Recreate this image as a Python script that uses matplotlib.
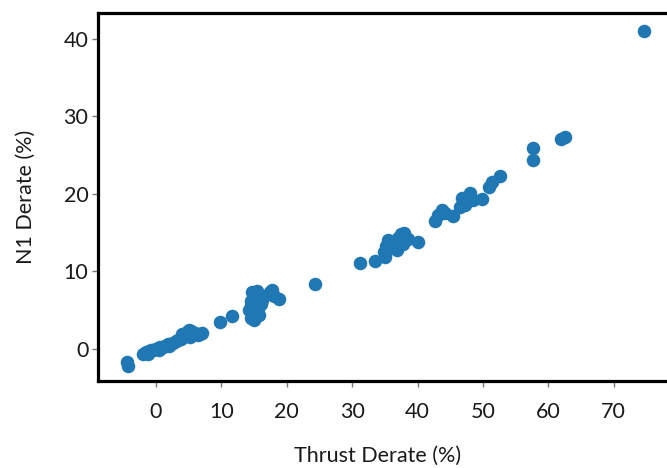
import matplotlib
matplotlib.use("Agg")
import matplotlib.pyplot as plt

plt.rcParams['font.family'] = ['Lato', 'DejaVu Sans']

# Thrust derate (%) and N1 derate (%)
thrust_derate = [
    -4.5, -4.3,
    -2.0, -1.5, -1.2, -1.0, -0.8, -0.5, 0.0, 0.3, 0.5, 0.6, 1.0, 1.4, 1.8, 2.0,
    2.2, 2.6, 3.0, 3.4, 3.8, 4.0, 4.2, 4.5, 4.8, 5.0, 5.2, 5.3, 5.6, 6.0, 6.4, 6.8, 7.0,
    9.8, 11.6,
    14.2, 14.5, 14.5, 14.6, 14.7, 14.8, 14.9, 15.0, 15.0, 15.2, 15.3, 15.5, 15.6,
    15.8, 16.0, 16.2, 16.5,
    17.5, 17.8, 18.0, 18.8,
    24.3,
    31.2, 33.5, 35.0, 34.8, 35.2, 35.5, 36.0, 36.5, 36.8, 37.0, 37.5, 37.8, 38.0, 38.5, 40.1,
    42.7, 43.2, 43.8, 44.2, 45.5, 46.5, 46.8, 47.0, 47.3, 47.5, 48.0, 48.5, 49.8,
    51.0, 51.4, 52.6,
    57.7, 57.7, 62.0, 62.5,
    74.6,
]
n1_derate = [
    -1.7, -2.2,
    -0.6, -0.4, -0.6, -0.3, -0.1, -0.2, 0.0, 0.1, -0.1, 0.2, 0.3, 0.4, 0.6, 0.4,
    0.7, 0.8, 1.0, 1.2, 1.3, 1.9, 1.5, 1.8, 2.2, 2.5, 1.6, 2.3, 1.9, 2.0, 1.8, 1.9, 2.0,
    3.5, 4.2,
    5.0, 4.0, 6.2, 5.5, 7.3, 4.5, 6.5, 5.0, 3.8, 6.0, 7.0, 7.5, 5.2,
    4.4, 5.8, 6.3, 6.8,
    7.3, 7.6, 6.8, 6.5,
    8.4,
    11.1, 11.4, 11.9, 12.5, 13.3, 14.0, 13.0, 13.8, 12.8, 14.3, 14.8, 13.5, 15.0, 14.2, 13.8,
    16.5, 17.3, 17.9, 17.5, 17.2, 18.3, 19.5, 19.0, 18.6, 19.6, 20.1, 19.2, 19.4,
    20.9, 21.5, 22.3,
    24.4, 25.9, 27.1, 27.3,
    41.0,
]

x_ticks = [0, 10, 20, 30, 40, 50, 60, 70]
y_ticks = [0, 10, 20, 30, 40]

fig = plt.figure(figsize=(6.67, 4.68), dpi=100)
ax = fig.add_axes([0.147, 0.186, 0.871, 0.787])

ax.scatter(thrust_derate, n1_derate, s=95, color='#1f77b4', linewidths=0)

ax.set_xlim(-8.87, 80)
ax.set_ylim(-4.13, 43.4)
ax.set_xticks(x_ticks)
ax.set_yticks(y_ticks)

for sp in ax.spines.values():
    sp.set_linewidth(2.3)
    sp.set_color('black')

ax.tick_params(axis='x', length=4, width=1, color='#777777', pad=11, labelsize=15.5, labelcolor='#1a1a1a')
ax.tick_params(axis='y', length=4, width=1, color='#777777', pad=3, labelsize=15.5, labelcolor='#1a1a1a')

ax.set_xlabel('Thrust Derate (%)', fontsize=15.5, labelpad=17, color='#1a1a1a')
ax.set_ylabel('N1 Derate (%)', fontsize=15.5, labelpad=20, color='#1a1a1a')
ax.xaxis.label.set_x(0.481)

fig.savefig('out.png', dpi=100)
